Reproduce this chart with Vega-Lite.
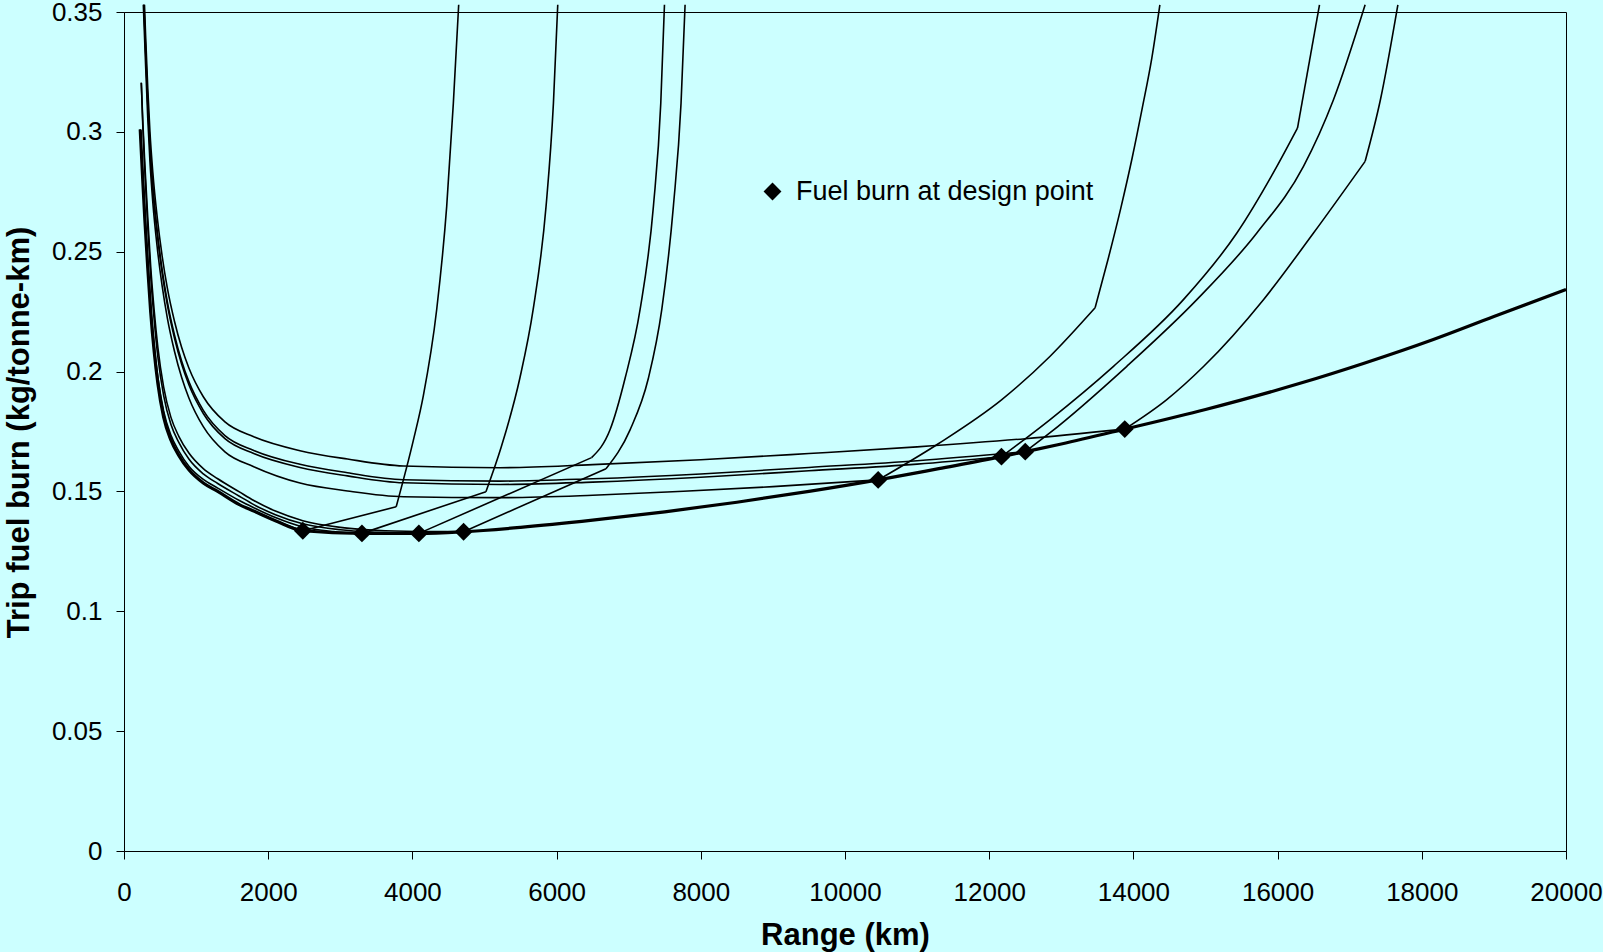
{
  "$schema": "https://vega.github.io/schema/vega-lite/v6.json",
  "width": 1442,
  "height": 839,
  "autosize": {"type": "none"},
  "padding": {"left": 124, "top": 12, "right": 37, "bottom": 101},
  "background": "#CCFFFF",
  "config": {
    "view": {"stroke": "#000000", "strokeWidth": 1},
    "font": "Liberation Sans"
  },
  "datasets": {
    "curves": [
      {"design":"env","segment":"all","range":225,"fuel":0.301},{"design":"env","segment":"all","range":260,"fuel":0.280},{"design":"env","segment":"all","range":290,"fuel":0.263},{"design":"env","segment":"all","range":330,"fuel":0.243},{"design":"env","segment":"all","range":370,"fuel":0.225},{"design":"env","segment":"all","range":420,"fuel":0.208},{"design":"env","segment":"all","range":470,"fuel":0.195},{"design":"env","segment":"all","range":550,"fuel":0.181},{"design":"env","segment":"all","range":650,"fuel":0.1715},{"design":"env","segment":"all","range":760,"fuel":0.165},{"design":"env","segment":"all","range":900,"fuel":0.159},{"design":"env","segment":"all","range":1100,"fuel":0.1535},{"design":"env","segment":"all","range":1300,"fuel":0.150},{"design":"env","segment":"all","range":1600,"fuel":0.1445},{"design":"env","segment":"all","range":1800,"fuel":0.1418},{"design":"env","segment":"all","range":2100,"fuel":0.1378},{"design":"env","segment":"all","range":2480,"fuel":0.1336},{"design":"env","segment":"all","range":3300,"fuel":0.1325},{"design":"env","segment":"all","range":4090,"fuel":0.1325},{"design":"env","segment":"all","range":4710,"fuel":0.1332},{"design":"env","segment":"all","range":5500,"fuel":0.135},{"design":"env","segment":"all","range":6500,"fuel":0.138},{"design":"env","segment":"all","range":7500,"fuel":0.1415},{"design":"env","segment":"all","range":8500,"fuel":0.1455},{"design":"env","segment":"all","range":9500,"fuel":0.150},{"design":"env","segment":"all","range":10460,"fuel":0.1548},{"design":"env","segment":"all","range":11300,"fuel":0.1595},{"design":"env","segment":"all","range":12170,"fuel":0.1645},{"design":"env","segment":"all","range":12500,"fuel":0.1666},{"design":"env","segment":"all","range":13000,"fuel":0.1698},{"design":"env","segment":"all","range":13880,"fuel":0.176},{"design":"env","segment":"all","range":15000,"fuel":0.1842},{"design":"env","segment":"all","range":16300,"fuel":0.195},{"design":"env","segment":"all","range":17200,"fuel":0.2035},{"design":"env","segment":"all","range":18160,"fuel":0.2134},{"design":"env","segment":"all","range":19000,"fuel":0.223},{"design":"env","segment":"all","range":20000,"fuel":0.2342},

      {"design":"D1","segment":"pre","range":225,"fuel":0.301},{"design":"D1","segment":"pre","range":260,"fuel":0.280},{"design":"D1","segment":"pre","range":290,"fuel":0.263},{"design":"D1","segment":"pre","range":330,"fuel":0.243},{"design":"D1","segment":"pre","range":370,"fuel":0.225},{"design":"D1","segment":"pre","range":420,"fuel":0.208},{"design":"D1","segment":"pre","range":470,"fuel":0.195},{"design":"D1","segment":"pre","range":550,"fuel":0.181},{"design":"D1","segment":"pre","range":650,"fuel":0.1715},{"design":"D1","segment":"pre","range":760,"fuel":0.165},{"design":"D1","segment":"pre","range":900,"fuel":0.159},{"design":"D1","segment":"pre","range":1100,"fuel":0.1535},{"design":"D1","segment":"pre","range":1300,"fuel":0.150},{"design":"D1","segment":"pre","range":1600,"fuel":0.1445},{"design":"D1","segment":"pre","range":1800,"fuel":0.1418},{"design":"D1","segment":"pre","range":2100,"fuel":0.1378},{"design":"D1","segment":"pre","range":2480,"fuel":0.1336},
      {"design":"D1","segment":"post","range":2480,"fuel":0.1336},{"design":"D1","segment":"post","range":3775,"fuel":0.1436},
      {"design":"D1","segment":"steep","range":3775,"fuel":0.1436},{"design":"D1","segment":"steep","range":4013,"fuel":0.1713},{"design":"D1","segment":"steep","range":4152,"fuel":0.190},{"design":"D1","segment":"steep","range":4337,"fuel":0.2259},{"design":"D1","segment":"steep","range":4476,"fuel":0.269},{"design":"D1","segment":"steep","range":4568,"fuel":0.312},{"design":"D1","segment":"steep","range":4642,"fuel":0.353},

      {"design":"D2","segment":"pre","range":225,"fuel":0.301},{"design":"D2","segment":"pre","range":260,"fuel":0.2815},{"design":"D2","segment":"pre","range":290,"fuel":0.265},{"design":"D2","segment":"pre","range":330,"fuel":0.245},{"design":"D2","segment":"pre","range":370,"fuel":0.227},{"design":"D2","segment":"pre","range":420,"fuel":0.2105},{"design":"D2","segment":"pre","range":470,"fuel":0.1975},{"design":"D2","segment":"pre","range":550,"fuel":0.1835},{"design":"D2","segment":"pre","range":650,"fuel":0.1735},{"design":"D2","segment":"pre","range":760,"fuel":0.1668},{"design":"D2","segment":"pre","range":900,"fuel":0.1605},{"design":"D2","segment":"pre","range":1100,"fuel":0.155},{"design":"D2","segment":"pre","range":1300,"fuel":0.1514},{"design":"D2","segment":"pre","range":1600,"fuel":0.1462},{"design":"D2","segment":"pre","range":1800,"fuel":0.1432},{"design":"D2","segment":"pre","range":2100,"fuel":0.1391},{"design":"D2","segment":"pre","range":2480,"fuel":0.1352},{"design":"D2","segment":"pre","range":2900,"fuel":0.1333},{"design":"D2","segment":"pre","range":3300,"fuel":0.1325},
      {"design":"D2","segment":"post","range":3300,"fuel":0.1325},{"design":"D2","segment":"post","range":5020,"fuel":0.1499},
      {"design":"D2","segment":"steep","range":5020,"fuel":0.1499},{"design":"D2","segment":"steep","range":5232,"fuel":0.1685},{"design":"D2","segment":"steep","range":5490,"fuel":0.1972},{"design":"D2","segment":"steep","range":5675,"fuel":0.2259},{"design":"D2","segment":"steep","range":5854,"fuel":0.269},{"design":"D2","segment":"steep","range":5956,"fuel":0.312},{"design":"D2","segment":"steep","range":6016,"fuel":0.353},

      {"design":"D3","segment":"pre","range":240,"fuel":0.3205},{"design":"D3","segment":"pre","range":260,"fuel":0.303},{"design":"D3","segment":"pre","range":290,"fuel":0.283},{"design":"D3","segment":"pre","range":330,"fuel":0.260},{"design":"D3","segment":"pre","range":370,"fuel":0.240},{"design":"D3","segment":"pre","range":420,"fuel":0.221},{"design":"D3","segment":"pre","range":470,"fuel":0.206},{"design":"D3","segment":"pre","range":550,"fuel":0.190},{"design":"D3","segment":"pre","range":650,"fuel":0.178},{"design":"D3","segment":"pre","range":760,"fuel":0.1705},{"design":"D3","segment":"pre","range":900,"fuel":0.1635},{"design":"D3","segment":"pre","range":1100,"fuel":0.1573},{"design":"D3","segment":"pre","range":1300,"fuel":0.1533},{"design":"D3","segment":"pre","range":1600,"fuel":0.148},{"design":"D3","segment":"pre","range":1800,"fuel":0.1445},{"design":"D3","segment":"pre","range":2100,"fuel":0.1403},{"design":"D3","segment":"pre","range":2480,"fuel":0.1365},{"design":"D3","segment":"pre","range":3000,"fuel":0.134},{"design":"D3","segment":"pre","range":3500,"fuel":0.133},{"design":"D3","segment":"pre","range":4090,"fuel":0.1325},
      {"design":"D3","segment":"post","range":4090,"fuel":0.1325},{"design":"D3","segment":"post","range":6485,"fuel":0.1641},
      {"design":"D3","segment":"steep","range":6485,"fuel":0.1641},{"design":"D3","segment":"steep","range":6741,"fuel":0.1757},{"design":"D3","segment":"steep","range":6950,"fuel":0.1972},{"design":"D3","segment":"steep","range":7158,"fuel":0.2259},{"design":"D3","segment":"steep","range":7343,"fuel":0.269},{"design":"D3","segment":"steep","range":7445,"fuel":0.312},{"design":"D3","segment":"steep","range":7496,"fuel":0.353},

      {"design":"D4","segment":"pre","range":240,"fuel":0.3205},{"design":"D4","segment":"pre","range":260,"fuel":0.305},{"design":"D4","segment":"pre","range":290,"fuel":0.286},{"design":"D4","segment":"pre","range":330,"fuel":0.264},{"design":"D4","segment":"pre","range":370,"fuel":0.244},{"design":"D4","segment":"pre","range":420,"fuel":0.225},{"design":"D4","segment":"pre","range":470,"fuel":0.210},{"design":"D4","segment":"pre","range":550,"fuel":0.1935},{"design":"D4","segment":"pre","range":650,"fuel":0.181},{"design":"D4","segment":"pre","range":760,"fuel":0.173},{"design":"D4","segment":"pre","range":900,"fuel":0.166},{"design":"D4","segment":"pre","range":1100,"fuel":0.1595},{"design":"D4","segment":"pre","range":1300,"fuel":0.1553},{"design":"D4","segment":"pre","range":1600,"fuel":0.1498},{"design":"D4","segment":"pre","range":1800,"fuel":0.1462},{"design":"D4","segment":"pre","range":2100,"fuel":0.1418},{"design":"D4","segment":"pre","range":2480,"fuel":0.1378},{"design":"D4","segment":"pre","range":3000,"fuel":0.135},{"design":"D4","segment":"pre","range":3500,"fuel":0.1338},{"design":"D4","segment":"pre","range":4090,"fuel":0.1333},{"design":"D4","segment":"pre","range":4710,"fuel":0.1332},
      {"design":"D4","segment":"post","range":4710,"fuel":0.1332},{"design":"D4","segment":"post","range":6685,"fuel":0.1595},
      {"design":"D4","segment":"steep","range":6685,"fuel":0.1595},{"design":"D4","segment":"steep","range":7019,"fuel":0.1757},{"design":"D4","segment":"steep","range":7273,"fuel":0.1972},{"design":"D4","segment":"steep","range":7459,"fuel":0.2259},{"design":"D4","segment":"steep","range":7620,"fuel":0.269},{"design":"D4","segment":"steep","range":7726,"fuel":0.312},{"design":"D4","segment":"steep","range":7782,"fuel":0.353},

      {"design":"D5","segment":"pre","range":268,"fuel":0.353},{"design":"D5","segment":"pre","range":300,"fuel":0.3275},{"design":"D5","segment":"pre","range":330,"fuel":0.3055},{"design":"D5","segment":"pre","range":360,"fuel":0.2875},{"design":"D5","segment":"pre","range":400,"fuel":0.2705},{"design":"D5","segment":"pre","range":462,"fuel":0.2515},{"design":"D5","segment":"pre","range":530,"fuel":0.2355},{"design":"D5","segment":"pre","range":600,"fuel":0.2225},{"design":"D5","segment":"pre","range":700,"fuel":0.2085},{"design":"D5","segment":"pre","range":800,"fuel":0.1975},{"design":"D5","segment":"pre","range":900,"fuel":0.189},{"design":"D5","segment":"pre","range":1100,"fuel":0.177},{"design":"D5","segment":"pre","range":1400,"fuel":0.1665},{"design":"D5","segment":"pre","range":1800,"fuel":0.1603},{"design":"D5","segment":"pre","range":2441,"fuel":0.1535},{"design":"D5","segment":"pre","range":3100,"fuel":0.1502},{"design":"D5","segment":"pre","range":3875,"fuel":0.1478},{"design":"D5","segment":"pre","range":5216,"fuel":0.1474},{"design":"D5","segment":"pre","range":6500,"fuel":0.1484},{"design":"D5","segment":"pre","range":7758,"fuel":0.1501},{"design":"D5","segment":"pre","range":9000,"fuel":0.152},{"design":"D5","segment":"pre","range":10460,"fuel":0.1548},
      {"design":"D5","segment":"post","range":10460,"fuel":0.1548},{"design":"D5","segment":"post","range":11300,"fuel":0.170},{"design":"D5","segment":"post","range":12175,"fuel":0.1883},{"design":"D5","segment":"post","range":12845,"fuel":0.2064},{"design":"D5","segment":"post","range":13469,"fuel":0.2266},
      {"design":"D5","segment":"steep","range":13469,"fuel":0.2266},{"design":"D5","segment":"steep","range":13655,"fuel":0.2476},{"design":"D5","segment":"steep","range":13827,"fuel":0.2684},{"design":"D5","segment":"steep","range":13984,"fuel":0.2893},{"design":"D5","segment":"steep","range":14124,"fuel":0.3101},{"design":"D5","segment":"steep","range":14256,"fuel":0.3309},{"design":"D5","segment":"steep","range":14367,"fuel":0.353},

      {"design":"D6","segment":"pre","range":275,"fuel":0.353},{"design":"D6","segment":"pre","range":300,"fuel":0.333},{"design":"D6","segment":"pre","range":330,"fuel":0.311},{"design":"D6","segment":"pre","range":360,"fuel":0.293},{"design":"D6","segment":"pre","range":400,"fuel":0.276},{"design":"D6","segment":"pre","range":462,"fuel":0.257},{"design":"D6","segment":"pre","range":530,"fuel":0.241},{"design":"D6","segment":"pre","range":600,"fuel":0.228},{"design":"D6","segment":"pre","range":700,"fuel":0.214},{"design":"D6","segment":"pre","range":800,"fuel":0.203},{"design":"D6","segment":"pre","range":900,"fuel":0.1945},{"design":"D6","segment":"pre","range":1100,"fuel":0.1825},{"design":"D6","segment":"pre","range":1400,"fuel":0.172},{"design":"D6","segment":"pre","range":1800,"fuel":0.1658},{"design":"D6","segment":"pre","range":2441,"fuel":0.160},{"design":"D6","segment":"pre","range":3100,"fuel":0.1565},{"design":"D6","segment":"pre","range":3875,"fuel":0.1536},{"design":"D6","segment":"pre","range":5216,"fuel":0.1529},{"design":"D6","segment":"pre","range":6500,"fuel":0.1539},{"design":"D6","segment":"pre","range":8000,"fuel":0.1559},{"design":"D6","segment":"pre","range":9500,"fuel":0.1586},{"design":"D6","segment":"pre","range":11000,"fuel":0.1614},{"design":"D6","segment":"pre","range":12170,"fuel":0.1645},
      {"design":"D6","segment":"post","range":12170,"fuel":0.1645},{"design":"D6","segment":"post","range":12845,"fuel":0.180},{"design":"D6","segment":"post","range":13724,"fuel":0.2022},{"design":"D6","segment":"post","range":14694,"fuel":0.230},{"design":"D6","segment":"post","range":15435,"fuel":0.2578},{"design":"D6","segment":"post","range":15990,"fuel":0.2856},{"design":"D6","segment":"post","range":16276,"fuel":0.3016},
      {"design":"D6","segment":"steep","range":16276,"fuel":0.3016},{"design":"D6","segment":"steep","range":16581,"fuel":0.353},

      {"design":"D7","segment":"pre","range":277,"fuel":0.353},{"design":"D7","segment":"pre","range":300,"fuel":0.3343},{"design":"D7","segment":"pre","range":330,"fuel":0.3123},{"design":"D7","segment":"pre","range":360,"fuel":0.2943},{"design":"D7","segment":"pre","range":400,"fuel":0.2773},{"design":"D7","segment":"pre","range":462,"fuel":0.2583},{"design":"D7","segment":"pre","range":530,"fuel":0.2423},{"design":"D7","segment":"pre","range":600,"fuel":0.2293},{"design":"D7","segment":"pre","range":700,"fuel":0.2153},{"design":"D7","segment":"pre","range":800,"fuel":0.2043},{"design":"D7","segment":"pre","range":900,"fuel":0.1958},{"design":"D7","segment":"pre","range":1100,"fuel":0.1838},{"design":"D7","segment":"pre","range":1400,"fuel":0.1733},{"design":"D7","segment":"pre","range":1800,"fuel":0.1671},{"design":"D7","segment":"pre","range":2441,"fuel":0.1613},{"design":"D7","segment":"pre","range":3100,"fuel":0.1578},{"design":"D7","segment":"pre","range":3875,"fuel":0.1549},{"design":"D7","segment":"pre","range":5216,"fuel":0.1543},{"design":"D7","segment":"pre","range":6500,"fuel":0.1553},{"design":"D7","segment":"pre","range":8000,"fuel":0.1573},{"design":"D7","segment":"pre","range":9500,"fuel":0.160},{"design":"D7","segment":"pre","range":11000,"fuel":0.1628},{"design":"D7","segment":"pre","range":12500,"fuel":0.1666},
      {"design":"D7","segment":"post","range":12500,"fuel":0.1666},{"design":"D7","segment":"post","range":12845,"fuel":0.1745},{"design":"D7","segment":"post","range":13909,"fuel":0.2022},{"design":"D7","segment":"post","range":14880,"fuel":0.230},{"design":"D7","segment":"post","range":15712,"fuel":0.2578},{"design":"D7","segment":"post","range":16359,"fuel":0.2856},{"design":"D7","segment":"post","range":16775,"fuel":0.3134},{"design":"D7","segment":"post","range":17214,"fuel":0.353},

      {"design":"D8","segment":"pre","range":284,"fuel":0.353},{"design":"D8","segment":"pre","range":300,"fuel":0.340},{"design":"D8","segment":"pre","range":330,"fuel":0.318},{"design":"D8","segment":"pre","range":360,"fuel":0.300},{"design":"D8","segment":"pre","range":400,"fuel":0.283},{"design":"D8","segment":"pre","range":462,"fuel":0.264},{"design":"D8","segment":"pre","range":530,"fuel":0.248},{"design":"D8","segment":"pre","range":600,"fuel":0.235},{"design":"D8","segment":"pre","range":700,"fuel":0.221},{"design":"D8","segment":"pre","range":800,"fuel":0.210},{"design":"D8","segment":"pre","range":900,"fuel":0.2015},{"design":"D8","segment":"pre","range":1100,"fuel":0.1895},{"design":"D8","segment":"pre","range":1400,"fuel":0.179},{"design":"D8","segment":"pre","range":1800,"fuel":0.1728},{"design":"D8","segment":"pre","range":2441,"fuel":0.167},{"design":"D8","segment":"pre","range":3100,"fuel":0.1635},{"design":"D8","segment":"pre","range":3875,"fuel":0.1606},{"design":"D8","segment":"pre","range":5216,"fuel":0.1599},{"design":"D8","segment":"pre","range":6500,"fuel":0.1612},{"design":"D8","segment":"pre","range":8000,"fuel":0.1632},{"design":"D8","segment":"pre","range":9500,"fuel":0.1658},{"design":"D8","segment":"pre","range":11000,"fuel":0.1686},{"design":"D8","segment":"pre","range":12500,"fuel":0.172},{"design":"D8","segment":"pre","range":13880,"fuel":0.176},
      {"design":"D8","segment":"post","range":13880,"fuel":0.176},{"design":"D8","segment":"post","range":14463,"fuel":0.1883},{"design":"D8","segment":"post","range":14976,"fuel":0.2022},{"design":"D8","segment":"post","range":15804,"fuel":0.230},{"design":"D8","segment":"post","range":16498,"fuel":0.2578},{"design":"D8","segment":"post","range":17214,"fuel":0.2877},
      {"design":"D8","segment":"steep","range":17214,"fuel":0.2877},{"design":"D8","segment":"steep","range":17426,"fuel":0.3134},{"design":"D8","segment":"steep","range":17668,"fuel":0.353}
    ],
    "design": [
      {"label":"Fuel burn at design point","range":2480,"fuel":0.1336},
      {"label":"Fuel burn at design point","range":3300,"fuel":0.1325},
      {"label":"Fuel burn at design point","range":4090,"fuel":0.1325},
      {"label":"Fuel burn at design point","range":4710,"fuel":0.1332},
      {"label":"Fuel burn at design point","range":10460,"fuel":0.1548},
      {"label":"Fuel burn at design point","range":12170,"fuel":0.1645},
      {"label":"Fuel burn at design point","range":12500,"fuel":0.1666},
      {"label":"Fuel burn at design point","range":13880,"fuel":0.176}
    ]
  },
  "encoding": {
    "x": {
      "field": "range", "type": "quantitative",
      "scale": {"domain": [0, 20000], "nice": false, "zero": false},
      "axis": {
        "title": "Range (km)",
        "values": [0, 2000, 4000, 6000, 8000, 10000, 12000, 14000, 16000, 18000, 20000],
        "format": "d",
        "grid": false,
        "domainColor": "#000000", "domainWidth": 1,
        "tickColor": "#000000", "tickSize": 8, "tickWidth": 1,
        "labelFont": "Liberation Sans", "labelFontSize": 26, "labelColor": "#000000",
        "labelPadding": 20, "labelFlush": false, "labelOverlap": false,
        "titleFont": "Liberation Sans", "titleFontSize": 31, "titleFontWeight": "bold", "titleColor": "#000000",
        "titleX": 721, "titleY": 84, "titleAlign": "center", "titleBaseline": "middle"
      }
    },
    "y": {
      "field": "fuel", "type": "quantitative",
      "scale": {"domain": [0, 0.35], "nice": false},
      "axis": {
        "title": "Trip fuel burn (kg/tonne-km)",
        "values": [0, 0.05, 0.1, 0.15, 0.2, 0.25, 0.3, 0.35],
        "format": "~g",
        "grid": false,
        "domainColor": "#000000", "domainWidth": 1,
        "tickColor": "#000000", "tickSize": 8, "tickWidth": 1,
        "labelFont": "Liberation Sans", "labelFontSize": 26, "labelColor": "#000000",
        "labelPadding": 14, "labelFlush": false, "labelOverlap": false,
        "titleFont": "Liberation Sans", "titleFontSize": 31, "titleFontWeight": "bold", "titleColor": "#000000",
        "titleAngle": -90, "titleX": -105, "titleY": 420, "titleAlign": "center", "titleBaseline": "middle"
      }
    }
  },
  "layer": [
    {
      "data": {"name": "curves"},
      "transform": [{"filter": "datum.design !== 'env'"}],
      "mark": {"type": "line", "color": "#000000", "strokeWidth": 1.6, "interpolate": "monotone"},
      "encoding": {"detail": [{"field": "design", "type": "nominal"}, {"field": "segment", "type": "nominal"}]}
    },
    {
      "data": {"name": "curves"},
      "transform": [{"filter": "datum.design === 'env'"}],
      "mark": {"type": "line", "color": "#000000", "strokeWidth": 3.2, "interpolate": "monotone"},
      "encoding": {"detail": {"field": "design", "type": "nominal"}}
    },
    {
      "data": {"name": "design"},
      "mark": {"type": "point", "filled": true, "color": "#000000", "opacity": 1, "size": 320, "strokeWidth": 0},
      "encoding": {
        "shape": {
          "field": "label", "type": "nominal",
          "scale": {"range": ["diamond"]},
          "legend": {
            "orient": "none", "legendX": 635, "legendY": 166,
            "title": null, "padding": 0,
            "labelFont": "Liberation Sans", "labelFontSize": 27, "labelColor": "#000000",
            "labelOffset": 10, "labelLimit": 800,
            "symbolSize": 320, "symbolFillColor": "#000000", "symbolStrokeWidth": 0, "symbolOpacity": 1
          }
        }
      }
    }
  ]
}
